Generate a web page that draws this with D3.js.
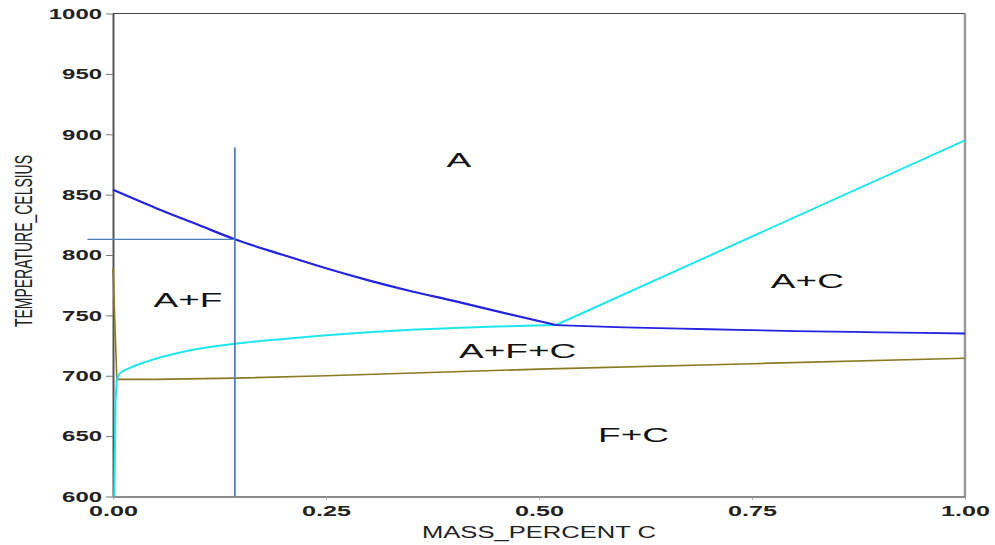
<!DOCTYPE html>
<html>
<head>
<meta charset="utf-8">
<script src="https://cdn.jsdelivr.net/npm/d3@7"></script>
<style>
  body { margin: 0; background: #fff; }
</style>
</head>
<body>
<div id="chart"></div>
<script>
// axis ticks
const xTicks = [0, 0.25, 0.5, 0.75, 1.0];
const yTicks = [600, 650, 700, 750, 800, 850, 900, 950, 1000];

// A3 line (A / A+F), blue
const a3Carbon = [0, 0.05, 0.1, 0.143, 0.2, 0.25, 0.3, 0.35, 0.4, 0.45, 0.52];
const a3Temp   = [854, 839, 825, 813, 800, 789, 779, 770, 762, 753.5, 742];
// A+F+C / A+C upper boundary, blue
const a1UpperCarbon = [0.52, 0.6, 0.7, 0.8, 0.9, 1.0];
const a1UpperTemp   = [742, 740, 738.5, 737, 736, 735];
// Acm line (A / A+C), cyan
const acmCarbon = [0.52, 1.0];
const acmTemp   = [742, 895];
// A+F / A+F+C boundary, cyan
const a1LowerCarbon = [0.0045, 0.008, 0.02, 0.043, 0.08, 0.143, 0.2, 0.25, 0.3, 0.35, 0.4, 0.45, 0.52];
const a1LowerTemp   = [697, 702, 706.5, 712.5, 719.5, 726.5, 730.5, 733.5, 736, 738, 739.5, 740.8, 742];
// ferrite solvus near zero carbon, cyan
const solvusCarbon = [0.0015, 0.0025, 0.003, 0.0045];
const solvusTemp   = [600, 650, 680, 697];
// A+F+C / F+C boundary, olive
const eutCarbon = [0, 0.0045, 0.05, 0.143, 0.25, 0.5, 0.75, 1.0];
const eutTemp   = [789, 697, 697, 698, 700, 705.5, 710, 714.5];

// marker lines
const markerCarbon = 0.143;
const markerTemp = 813;
const markerTop = 889;
const markerLeft = -0.03;

// region labels
const labelText   = ["A", "A+F", "A+C", "A+F+C", "F+C"];
const labelCarbon = [0.406, 0.088, 0.815, 0.475, 0.611];
const labelTemp   = [873, 757, 773, 715, 645];

const width = 995, height = 545;
const margin = { top: 13.5, right: 30, bottom: 48.5, left: 113 };

const svg = d3.select("#chart").append("svg")
  .attr("width", width)
  .attr("height", height);

const x = d3.scaleLinear().domain([0, 1]).range([margin.left, width - margin.right]);
const y = d3.scaleLinear().domain([600, 1000]).range([height - margin.bottom, margin.top]);

// stretch text horizontally (the reference image is stretched wide)
function stretch(sel, k) {
  sel.each(function() {
    const len = this.getComputedTextLength();
    d3.select(this).attr("textLength", len * k).attr("lengthAdjust", "spacingAndGlyphs");
  });
}

// frame
svg.append("line")
  .attr("x1", x(0)).attr("x2", x(1)).attr("y1", y(1000)).attr("y2", y(1000))
  .attr("stroke", "#444").attr("stroke-width", 1);
svg.append("line")
  .attr("x1", x(1)).attr("x2", x(1)).attr("y1", y(1000)).attr("y2", y(600))
  .attr("stroke", "#999").attr("stroke-width", 2.5);

// axes
const yAxis = svg.append("g")
  .attr("transform", `translate(${x(0)},0)`)
  .call(d3.axisLeft(y).tickValues(yTicks).tickFormat(d3.format("d")).tickSize(7).tickSizeOuter(0).tickPadding(4));
yAxis.select(".domain").attr("stroke", "#555").attr("stroke-width", 2);
yAxis.selectAll(".tick line").attr("stroke", "#777");
yAxis.selectAll(".tick text")
  .attr("font-family", "Liberation Sans, Arial, sans-serif")
  .attr("font-weight", "bold")
  .attr("font-size", 15)
  .attr("fill", "#222")
  .attr("textLength", d => String(d).length * 13.3)
  .attr("lengthAdjust", "spacingAndGlyphs");

const xAxis = svg.append("g")
  .attr("transform", `translate(0,${y(600)})`)
  .call(d3.axisBottom(x).tickValues(xTicks).tickFormat(d3.format(".2f")).tickSize(3).tickSizeOuter(0).tickPadding(6));
xAxis.select(".domain").attr("stroke", "#666").attr("stroke-width", 1.5);
xAxis.selectAll(".tick line").attr("stroke", "#999");
xAxis.selectAll(".tick text")
  .attr("font-family", "Liberation Sans, Arial, sans-serif")
  .attr("font-weight", "bold")
  .attr("font-size", 15)
  .attr("fill", "#222")
  .attr("textLength", 49)
  .attr("lengthAdjust", "spacingAndGlyphs");

// axis titles
svg.append("text")
  .attr("x", x(0.5)).attr("y", 538)
  .attr("text-anchor", "middle")
  .attr("font-family", "Liberation Sans, Arial, sans-serif")
  .attr("font-size", 16)
  .attr("fill", "#222")
  .text("MASS_PERCENT C")
  .attr("textLength", 234).attr("lengthAdjust", "spacingAndGlyphs");

svg.append("text")
  .attr("transform", "translate(32,241) scale(1.75,1) rotate(-90)")
  .attr("text-anchor", "middle")
  .attr("font-family", "Liberation Sans, Arial, sans-serif")
  .attr("font-size", 14)
  .attr("fill", "#222")
  .text("TEMPERATURE_CELSIUS")
  .attr("textLength", 172).attr("lengthAdjust", "spacingAndGlyphs");

// phase boundaries
const line = d3.line().x(d => x(d[0])).y(d => y(d[1]));
const smooth = d3.line().x(d => x(d[0])).y(d => y(d[1])).curve(d3.curveMonotoneX);
const zip = (a, b) => a.map((v, i) => [v, b[i]]);

const curves = [
  { pts: zip(eutCarbon, eutTemp), color: "#8c7a22", w: 1.6, gen: line },
  { pts: zip(solvusCarbon, solvusTemp), color: "#1ee6ee", w: 2, gen: line },
  { pts: zip(a1LowerCarbon, a1LowerTemp), color: "#1ee6ee", w: 2, gen: smooth },
  { pts: zip(acmCarbon, acmTemp), color: "#1ee6ee", w: 2, gen: line },
  { pts: zip(a1UpperCarbon, a1UpperTemp), color: "#2323e0", w: 1.8, gen: smooth },
  { pts: zip(a3Carbon, a3Temp), color: "#2323e0", w: 2.2, gen: smooth }
];

svg.append("g").selectAll("path")
  .data(curves)
  .enter()
  .append("path")
  .attr("d", d => d.gen(d.pts))
  .attr("fill", "none")
  .attr("stroke", d => d.color)
  .attr("stroke-width", d => d.w);

// marker lines
svg.append("line")
  .attr("x1", x(markerCarbon)).attr("x2", x(markerCarbon))
  .attr("y1", y(600)).attr("y2", y(markerTop))
  .attr("stroke", "#4a7fc0").attr("stroke-width", 1.8);
svg.append("line")
  .attr("x1", x(markerLeft)).attr("x2", x(markerCarbon))
  .attr("y1", y(markerTemp)).attr("y2", y(markerTemp))
  .attr("stroke", "#4a7fc0").attr("stroke-width", 1.3);

// region labels
svg.append("g").selectAll("text")
  .data(labelText)
  .enter()
  .append("text")
  .attr("x", (d, i) => x(labelCarbon[i]))
  .attr("y", (d, i) => y(labelTemp[i]))
  .attr("text-anchor", "middle")
  .attr("font-family", "Liberation Sans, Arial, sans-serif")
  .attr("font-size", 20)
  .attr("fill", "#111")
  .text(d => d)
  .call(stretch, 1.85);
</script>
</body>
</html>
